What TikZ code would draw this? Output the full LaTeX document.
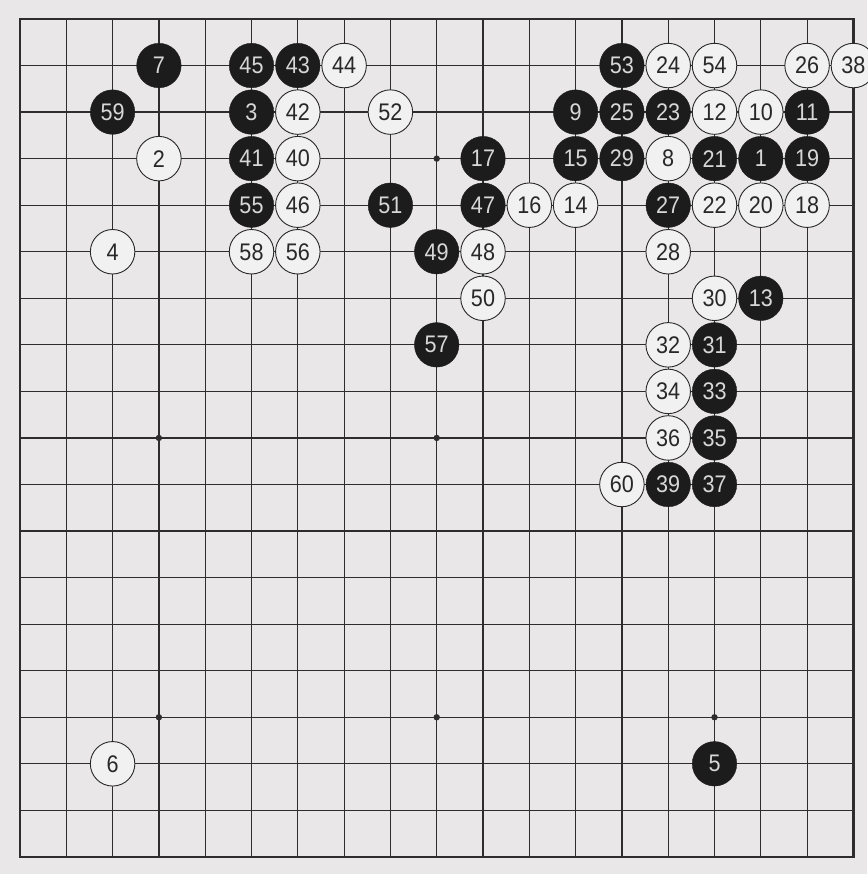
\documentclass[tikz,border=0pt]{standalone}
\usepackage{fontspec}
\newfontfamily\stonefont[FakeStretch=0.9]{Liberation Sans}
\definecolor{paper}{RGB}{233,231,232}
\definecolor{gridline}{RGB}{45,45,45}
\definecolor{stoneblack}{RGB}{28,28,28}
\definecolor{stonewhite}{RGB}{242,241,241}
\definecolor{numlight}{RGB}{215,215,215}
\definecolor{numdark}{RGB}{40,40,40}
\begin{document}
\begin{tikzpicture}[x=1pt,y=-1pt]
\tikzset{
  stonebase/.style={circle, minimum size=44.5pt, inner sep=0pt,
    font=\stonefont\fontsize{24}{24}\selectfont},
  blackstone/.style={stonebase, fill=stoneblack, draw=stoneblack, text=numlight},
  whitestone/.style={stonebase, fill=stonewhite, draw=numdark, line width=0.9pt, text=numdark},
  gridrule/.style={draw=gridline, line width=1.2pt},
  borderrule/.style={draw=gridline, line width=2.6pt},
  hoshi/.style={fill=gridline}
}
\def\placestone#1#2#3#4{\node[#1] (s#2) at ({20+(#3-1)*46.3},{19+(#4-1)*46.55}) {#2};}
% background
\fill[paper] (0,0) rectangle (867,874);
\useasboundingbox (0,0) rectangle (867,874);
% grid
\foreach \i in {1,...,17} {
  \draw[gridrule] ({20+\i*46.3},19) -- ({20+\i*46.3},857);
  \draw[gridrule] (20,{19+\i*46.55}) -- (853.4,{19+\i*46.55});
}
\draw[borderrule] (20,19) rectangle (853.4,856.9);
% star points
\foreach \c in {4,10,16} \foreach \r in {4,10,16}
  \fill[hoshi] ({20+(\c-1)*46.3},{19+(\r-1)*46.55}) circle (3.2);
% stones: style, number, column, row
\placestone{blackstone}{1}{17}{4}
\placestone{whitestone}{2}{4}{4}
\placestone{blackstone}{3}{6}{3}
\placestone{whitestone}{4}{3}{6}
\placestone{blackstone}{5}{16}{17}
\placestone{whitestone}{6}{3}{17}
\placestone{blackstone}{7}{4}{2}
\placestone{whitestone}{8}{15}{4}
\placestone{blackstone}{9}{13}{3}
\placestone{whitestone}{10}{17}{3}
\placestone{blackstone}{11}{18}{3}
\placestone{whitestone}{12}{16}{3}
\placestone{blackstone}{13}{17}{7}
\placestone{whitestone}{14}{13}{5}
\placestone{blackstone}{15}{13}{4}
\placestone{whitestone}{16}{12}{5}
\placestone{blackstone}{17}{11}{4}
\placestone{whitestone}{18}{18}{5}
\placestone{blackstone}{19}{18}{4}
\placestone{whitestone}{20}{17}{5}
\placestone{blackstone}{21}{16}{4}
\placestone{whitestone}{22}{16}{5}
\placestone{blackstone}{23}{15}{3}
\placestone{whitestone}{24}{15}{2}
\placestone{blackstone}{25}{14}{3}
\placestone{whitestone}{26}{18}{2}
\placestone{blackstone}{27}{15}{5}
\placestone{whitestone}{28}{15}{6}
\placestone{blackstone}{29}{14}{4}
\placestone{whitestone}{30}{16}{7}
\placestone{blackstone}{31}{16}{8}
\placestone{whitestone}{32}{15}{8}
\placestone{blackstone}{33}{16}{9}
\placestone{whitestone}{34}{15}{9}
\placestone{blackstone}{35}{16}{10}
\placestone{whitestone}{36}{15}{10}
\placestone{blackstone}{37}{16}{11}
\placestone{whitestone}{38}{19}{2}
\placestone{blackstone}{39}{15}{11}
\placestone{whitestone}{40}{7}{4}
\placestone{blackstone}{41}{6}{4}
\placestone{whitestone}{42}{7}{3}
\placestone{blackstone}{43}{7}{2}
\placestone{whitestone}{44}{8}{2}
\placestone{blackstone}{45}{6}{2}
\placestone{whitestone}{46}{7}{5}
\placestone{blackstone}{47}{11}{5}
\placestone{whitestone}{48}{11}{6}
\placestone{blackstone}{49}{10}{6}
\placestone{whitestone}{50}{11}{7}
\placestone{blackstone}{51}{9}{5}
\placestone{whitestone}{52}{9}{3}
\placestone{blackstone}{53}{14}{2}
\placestone{whitestone}{54}{16}{2}
\placestone{blackstone}{55}{6}{5}
\placestone{whitestone}{56}{7}{6}
\placestone{blackstone}{57}{10}{8}
\placestone{whitestone}{58}{6}{6}
\placestone{blackstone}{59}{3}{3}
\placestone{whitestone}{60}{14}{11}
\end{tikzpicture}
\end{document}
